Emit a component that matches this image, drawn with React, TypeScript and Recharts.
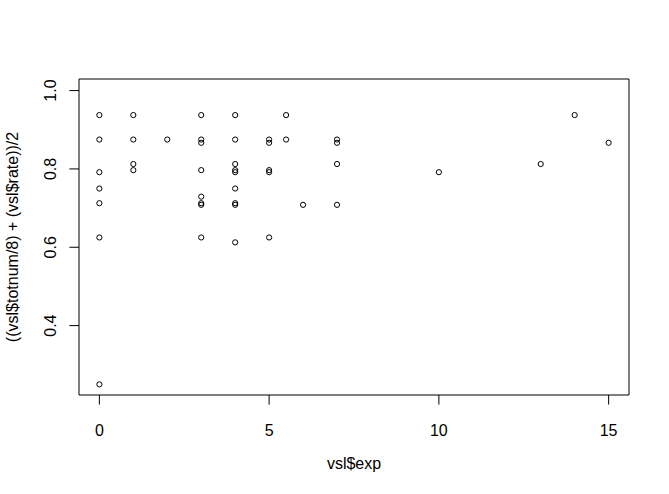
import React from 'react';
import { ScatterChart, Scatter, XAxis, YAxis, ReferenceArea } from 'recharts';

const expValues = [
  0, 0, 0, 0, 0, 0, 0,
  1, 1, 1, 1,
  2,
  3, 3, 3, 3, 3, 3, 3, 3,
  4, 4, 4, 4, 4, 4, 4, 4, 4,
  5, 5, 5, 5, 5,
  5.5, 5.5,
  6,
  7, 7, 7, 7,
  10, 13, 14, 15,
];
const scoreValues = [
  0.9375, 0.875, 0.7917, 0.75, 0.7125, 0.625, 0.25,
  0.9375, 0.875, 0.8125, 0.7969,
  0.875,
  0.9375, 0.875, 0.8667, 0.7969, 0.7292, 0.7125, 0.7083, 0.625,
  0.9375, 0.875, 0.8125, 0.7969, 0.7917, 0.75, 0.7125, 0.7083, 0.6125,
  0.875, 0.8667, 0.7969, 0.7917, 0.625,
  0.9375, 0.875,
  0.7083,
  0.875, 0.8667, 0.8125, 0.7083,
  0.7917, 0.8125, 0.9375, 0.8667,
];
const xTicks = [0, 5, 10, 15];
const yTicks = [0.4, 0.6, 0.8, 1.0];
const xDomain = [-0.6, 15.6];
const yDomain = [0.2228, 1.0296];
const xLabel = 'vsl$exp';
const yLabel = '((vsl$totnum/8) + (vsl$rate))/2';

const data = expValues.map((x, i) => ({ x, y: scoreValues[i] }));

const FONT = '"Liberation Sans", Arial, sans-serif';

const YTick = (props: any) => {
  const { x, y, payload } = props;
  return (
    <text x={x} y={y} transform={`rotate(-90, ${x}, ${y})`} textAnchor="middle" fontSize={16} fill="#000" fontFamily={FONT}>
      {Number(payload.value).toFixed(1)}
    </text>
  );
};

const Circle = (props: any) => (
  <circle cx={props.cx} cy={props.cy} r={2.6} fill="none" stroke="#000" strokeWidth={1} />
);

export default function App() {
  return (
    <div style={{ position: 'absolute', left: 0, top: 0, background: '#fff' }}>
      <ScatterChart width={669} height={494} margin={{ top: 79, right: 40, bottom: 0, left: 0 }}>
        <XAxis
          type="number"
          dataKey="x"
          domain={xDomain}
          ticks={xTicks}
          allowDataOverflow
          axisLine={false}
          tickSize={9.6}
          tickMargin={20}
          height={99}
          tickLine={{ stroke: '#000' }}
          tick={{ fill: '#000', fontSize: 16, fontFamily: FONT }}
          label={{
            content: (p: any) => {
              const vb = p.viewBox;
              return (
                <text x={vb.x + vb.width / 2} y={vb.y + vb.height - 25} textAnchor="middle" fontSize={16} fill="#000" fontFamily={FONT}>
                  {xLabel}
                </text>
              );
            },
          }}
        />
        <YAxis
          type="number"
          dataKey="y"
          domain={yDomain}
          ticks={yTicks}
          allowDataOverflow
          axisLine={false}
          width={79}
          tickSize={9.6}
          tickMargin={13.4}
          tickLine={{ stroke: '#000' }}
          tick={<YTick />}
          label={{
            content: (p: any) => {
              const vb = p.viewBox;
              const cx = vb.x + 18;
              const cy = vb.y + vb.height / 2;
              return (
                <text x={cx} y={cy} transform={`rotate(-90, ${cx}, ${cy})`} textAnchor="middle" fontSize={16} fill="#000" fontFamily={FONT}>
                  {yLabel}
                </text>
              );
            },
          }}
        />
        <ReferenceArea x1={xDomain[0]} x2={xDomain[1]} y1={yDomain[0]} y2={yDomain[1]} fill="none" stroke="#000" strokeWidth={1} ifOverflow="visible" />
        <Scatter data={data} isAnimationActive={false} shape={<Circle />} />
      </ScatterChart>
    </div>
  );
}
